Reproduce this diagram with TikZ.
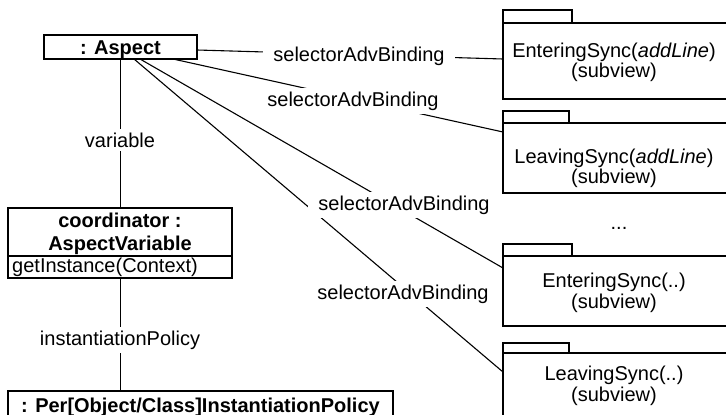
\documentclass[tikz,border=0pt]{standalone}
\usepackage{fontspec}
\setmainfont{Liberation Sans}
\usetikzlibrary{calc}
\begin{document}
\begin{tikzpicture}[x=1pt,y=-1pt,
  box/.style={draw, line width=1.3pt, inner sep=0pt, outer sep=0pt, anchor=north west},
  tabline/.style={line width=1.3pt},
  conn/.style={line width=1.1pt},
  txt/.style={font=\fontsize{20}{22}\selectfont, inner sep=0pt, anchor=base},
  btxt/.style={txt, font=\fontsize{20}{22}\selectfont\bfseries},
  lab/.style={txt, fill=white, inner xsep=10pt, inner ysep=4pt}]
\useasboundingbox (0,0) rectangle (726,415);
\clip (0,0) rectangle (726,415);

% object boxes
\node[box, minimum width=153pt, minimum height=24pt] (asp) at (44,35) {};
\node[btxt] (aspt) at (120.5,54) {: Aspect};

\node[box, minimum width=224pt, minimum height=70pt] (coord) at (8,208) {};
\draw[tabline] ($(coord.north west)+(0,48)$) -- ($(coord.north east)+(0,48)$);
\node[btxt] (coordt1) at (120,227) {coordinator :};
\node[btxt] (coordt2) at (120,250) {AspectVariable};
\node[txt, anchor=base west] (coordop) at (12,272) {getInstance(Context)};

\node[box, minimum width=385pt, minimum height=34pt] (pol) at (8,391) {};
\node[btxt] (polt) at (200.5,412) {: Per[Object/Class]InstantiationPolicy};

% packages
\node[box, minimum width=225pt, minimum height=76pt] (p1) at (503,23) {};
\draw[tabline] (p1.north west) rectangle ++(69,-13);
\node[txt] (p1a) at (614,57) {EnteringSync(\textit{addLine})};
\node[txt] (p1b) at (614,77) {(subview)};

\node[box, minimum width=225pt, minimum height=70pt] (p2) at (503,123) {};
\draw[tabline] (p2.north west) rectangle ++(66,-12);
\node[txt] (p2a) at (614,163) {LeavingSync(\textit{addLine})};
\node[txt] (p2b) at (614,183) {(subview)};

\node[txt] (dots) at (619,229) {...};

\node[box, minimum width=225pt, minimum height=70pt] (p3) at (503,256) {};
\draw[tabline] (p3.north west) rectangle ++(69,-12);
\node[txt] (p3a) at (614,287) {EnteringSync(..)};
\node[txt] (p3b) at (614,308) {(subview)};

\node[box, minimum width=225pt, minimum height=75pt] (p4) at (503,353) {};
\draw[tabline] (p4.north west) rectangle ++(66,-10);
\node[txt] (p4a) at (614,380) {LeavingSync(..)};
\node[txt] (p4b) at (614,401) {(subview)};

% connectors
\draw[conn] (asp.south -| aspt.base) -- (coord.north -| aspt.base);
\draw[conn] (coord.south -| aspt.base) -- (pol.north -| aspt.base);
\draw[conn] ($(asp.north east)+(0,15)$) -- ($(p1.north west)+(0,36)$);
\draw[conn] ($(asp.south west)+(129,0)$) -- ($(p2.north west)+(0,9)$);
\draw[conn] ($(asp.south west)+(96,0)$) -- ($(p3.north west)+(0,12)$);
\draw[conn] ($(asp.south west)+(90,0)$) -- ($(p4.north west)+(0,19)$);

% connector labels
\node[lab] (lvar) at (120,147) {variable};
\node[lab] (lpol) at (120,345) {instantiationPolicy};
\node[lab] (l1) at (359,61) {selectorAdvBinding};
\node[lab] (l2) at (353,106) {selectorAdvBinding};
\node[lab] (l3) at (404,210) {selectorAdvBinding};
\node[lab] (l4) at (403,299) {selectorAdvBinding};
\end{tikzpicture}
\end{document}
